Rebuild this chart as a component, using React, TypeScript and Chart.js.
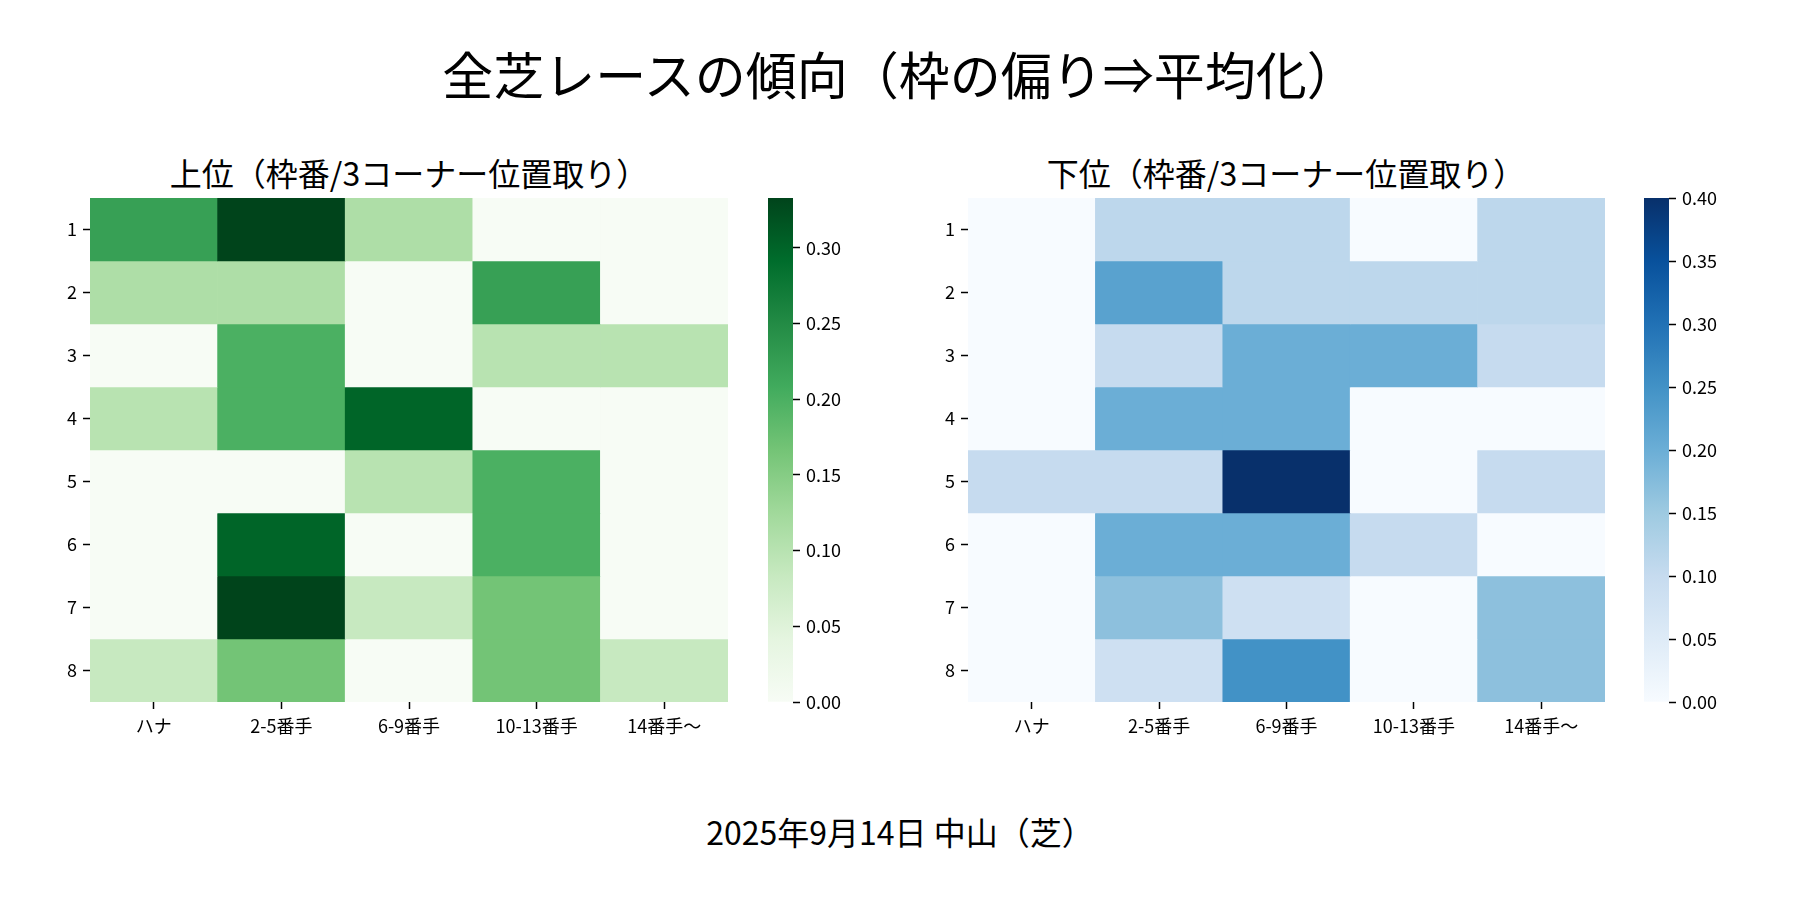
import { useEffect, useRef } from "react";
import { Chart, registerables } from "chart.js";

Chart.register(...registerables);

const FONT = '"Noto Sans CJK JP", "Noto Sans", sans-serif';

// 行 = 枠番, 列 = 3コーナー位置取り
const rowLabels = ["1", "2", "3", "4", "5", "6", "7", "8"];
const colLabels = ["ハナ", "2-5番手", "6-9番手", "10-13番手", "14番手～"];

// 上位
const topValues = [
  [0.222, 0.333, 0.111, 0, 0],
  [0.111, 0.111, 0, 0.222, 0],
  [0, 0.2, 0, 0.1, 0.1],
  [0.1, 0.2, 0.3, 0, 0],
  [0, 0, 0.1, 0.2, 0],
  [0, 0.3, 0, 0.2, 0],
  [0, 0.333, 0.083, 0.167, 0],
  [0.083, 0.167, 0, 0.167, 0.083],
];

// 下位
const bottomValues = [
  [0, 0.111, 0.111, 0, 0.111],
  [0, 0.222, 0.111, 0.111, 0.111],
  [0, 0.1, 0.2, 0.2, 0.1],
  [0, 0.2, 0.2, 0, 0],
  [0.1, 0.1, 0.4, 0, 0.1],
  [0, 0.2, 0.2, 0.1, 0],
  [0, 0.167, 0.083, 0, 0.167],
  [0, 0.083, 0.25, 0, 0.167],
];

const GREENS = ["#f7fcf5", "#e5f5e0", "#c7e9c0", "#a1d99b", "#74c476", "#41ab5d", "#238b45", "#006d2c", "#00441b"];
const BLUES = ["#f7fbff", "#deebf7", "#c6dbef", "#9ecae1", "#6baed6", "#4292c6", "#2171b5", "#08519c", "#08306b"];

function hexToRgb(h: string) {
  return [1, 3, 5].map((i) => parseInt(h.slice(i, i + 2), 16));
}

function cmap(stops: string[], t: number) {
  const tt = Math.max(0, Math.min(1, t));
  const x = tt * (stops.length - 1);
  const i = Math.min(stops.length - 2, Math.floor(x));
  const f = x - i;
  const a = hexToRgb(stops[i]);
  const b = hexToRgb(stops[i + 1]);
  const c = a.map((v, k) => Math.round(v + (b[k] - v) * f));
  return `rgb(${c[0]}, ${c[1]}, ${c[2]})`;
}

const tickGrid = {
  display: true,
  drawOnChartArea: false,
  drawTicks: true,
  tickLength: 7,
  tickColor: "#000",
  tickWidth: 1.5,
};

const tickFont = { family: FONT, size: 18 };

// fixed axis sizes, no extra padding for label overflow
const fixWidth = (w: number) => (s: any) => {
  s.width = w;
  s.paddingTop = 0;
  s.paddingBottom = 0;
};
const fixHeight = (h: number) => (s: any) => {
  s.height = h;
  s.paddingLeft = 0;
  s.paddingRight = 0;
};

function Heatmap({ values, stops, plotLeft, plotRight }: { values: number[][]; stops: string[]; plotLeft: number; plotRight: number }) {
  const ref = useRef<HTMLCanvasElement>(null);
  const width = plotRight - plotLeft + 102;
  const height = 570;

  useEffect(() => {
    if (!ref.current) return;
    const vmax = Math.max(...values.flat());
    const chart = new Chart(ref.current, {
      type: "bar",
      data: {
        labels: colLabels,
        datasets: rowLabels.map((_, r) => ({
          data: colLabels.map(() => [r, r + 1]),
          backgroundColor: values[r].map((v) => cmap(stops, v / vmax)),
          borderWidth: 0,
          barPercentage: 1,
          categoryPercentage: 1,
          grouped: false,
        })),
      },
      options: {
        animation: false,
        responsive: false,
        layout: { padding: { left: 0, top: 8, right: 12, bottom: 8 } },
        plugins: { legend: { display: false }, tooltip: { enabled: false } },
        scales: {
          x: {
            type: "category",
            offset: true,
            afterFit: fixHeight(50),
            ticks: { color: "#000", font: tickFont, padding: 6, maxRotation: 0, autoSkip: false },
            grid: { ...tickGrid, offset: false },
            border: { display: false },
          },
          y: {
            type: "linear",
            min: 0,
            max: rowLabels.length,
            reverse: true,
            afterBuildTicks: (s: any) => {
              s.ticks = rowLabels.map((_, i) => ({ value: i + 0.5 }));
            },
            afterFit: fixWidth(90),
            ticks: {
              color: "#000",
              font: tickFont,
              padding: 6,
              callback: (v: any) => rowLabels[Math.floor(Number(v))],
            },
            grid: tickGrid,
            border: { display: false },
          },
        },
      },
    } as any);
    return () => chart.destroy();
  }, [values, stops]);

  return (
    <canvas
      ref={ref}
      width={width}
      height={height}
      style={{ position: "absolute", left: plotLeft - 90, top: 190, width, height }}
    />
  );
}

function Colorbar({ values, stops, barLeft }: { values: number[][]; stops: string[]; barLeft: number }) {
  const ref = useRef<HTMLCanvasElement>(null);
  const width = 120;
  const height = 570;

  useEffect(() => {
    if (!ref.current) return;
    const vmax = Math.max(...values.flat());
    const chart = new Chart(ref.current, {
      type: "bar",
      data: {
        labels: [""],
        datasets: [
          {
            data: [vmax],
            borderWidth: 0,
            barPercentage: 1,
            categoryPercentage: 1,
            backgroundColor: (ctx: any) => {
              const area = ctx.chart.chartArea;
              if (!area) return stops[stops.length - 1];
              const g = ctx.chart.ctx.createLinearGradient(0, area.bottom, 0, area.top);
              stops.forEach((c, i) => g.addColorStop(i / (stops.length - 1), c));
              return g;
            },
          },
        ],
      },
      options: {
        animation: false,
        responsive: false,
        layout: { padding: { left: 28, top: 8, right: 0, bottom: 58 } },
        plugins: { legend: { display: false }, tooltip: { enabled: false } },
        scales: {
          x: { display: false, offset: true },
          y: {
            type: "linear",
            position: "right",
            min: 0,
            max: vmax,
            afterFit: fixWidth(67),
            ticks: {
              stepSize: 0.05,
              includeBounds: false,
              color: "#000",
              font: tickFont,
              padding: 6,
              callback: (v: any) => Number(v).toFixed(2),
            },
            grid: tickGrid,
            border: { display: false },
          },
        },
      },
    } as any);
    return () => chart.destroy();
  }, [values, stops]);

  return (
    <canvas
      ref={ref}
      width={width}
      height={height}
      style={{ position: "absolute", left: barLeft - 28, top: 190, width, height }}
    />
  );
}

function Label({ text, cx, cy, size }: { text: string; cx: number; cy: number; size: number }) {
  return (
    <div
      style={{
        position: "absolute",
        left: cx - 500,
        width: 1000,
        top: cy - size * 0.7,
        height: size * 1.4,
        lineHeight: `${size * 1.4}px`,
        textAlign: "center",
        fontSize: size,
        color: "#000",
        whiteSpace: "nowrap",
      }}
    >
      {text}
    </div>
  );
}

export default function App() {
  return (
    <div
      style={{
        position: "absolute",
        left: 0,
        top: 0,
        width: 1800,
        height: 900,
        background: "#fff",
        fontFamily: FONT,
        overflow: "hidden",
      }}
    >
      <Label text="全芝レースの傾向（枠の偏り⇒平均化）" cx={900} cy={74} size={51} />
      <Label text="上位（枠番/3コーナー位置取り）" cx={409} cy={172} size={32} />
      <Label text="下位（枠番/3コーナー位置取り）" cx={1286} cy={172} size={32} />
      <Heatmap values={topValues} stops={GREENS} plotLeft={90} plotRight={728} />
      <Colorbar values={topValues} stops={GREENS} barLeft={768} />
      <Heatmap values={bottomValues} stops={BLUES} plotLeft={968} plotRight={1605} />
      <Colorbar values={bottomValues} stops={BLUES} barLeft={1644} />
      <Label text="2025年9月14日 中山（芝）" cx={900} cy={831} size={32} />
    </div>
  );
}
